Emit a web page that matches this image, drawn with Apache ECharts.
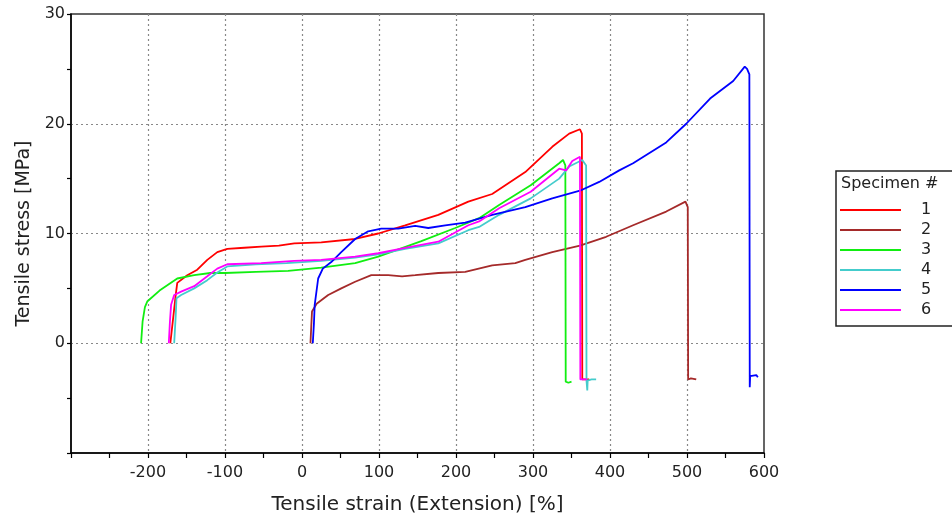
<!DOCTYPE html>
<html>
<head>
<meta charset="utf-8">
<script src="https://cdn.jsdelivr.net/npm/echarts@6/dist/echarts.min.js"></script>
<style>html,body{margin:0;padding:0;background:#fff}#c{width:952px;height:522px}</style>
</head>
<body>
<div id="c"></div>
<script>
// Specimen 1 (red)
const s1X = [-171, -167, -164, -162, -149, -136, -123, -110, -97, -75, -53, -30, -10, 25, 69, 99, 134, 177, 216, 247, 290, 325, 347, 361, 363.5, 364, 366, 373];
const s1Y = [0, 2.5, 4.4, 5.5, 6.2, 6.7, 7.6, 8.3, 8.6, 8.7, 8.8, 8.9, 9.1, 9.2, 9.5, 10.0, 10.75, 11.7, 12.9, 13.6, 15.6, 17.9, 19.1, 19.5, 19.1, -3.3, -3.3, -3.3];
// Specimen 2 (brown)
const s2X = [11, 12, 13, 19, 34, 51, 69, 90, 112, 130, 147, 177, 212, 247, 277, 290, 325, 361, 395, 430, 473, 498, 501, 501.5, 505, 512];
const s2Y = [0, 1.5, 2.9, 3.6, 4.4, 5.0, 5.6, 6.2, 6.2, 6.1, 6.2, 6.4, 6.5, 7.1, 7.3, 7.6, 8.3, 8.9, 9.7, 10.75, 12.0, 12.9, 12.4, -3.3, -3.2, -3.3];
// Specimen 3 (green)
const s3X = [-209, -207, -204, -201, -185, -162, -140, -119, -100, -60, -18, 25, 69, 99, 155, 199, 230, 256, 297, 334, 339, 342, 342.5, 346, 350];
const s3Y = [0, 2.0, 3.3, 3.8, 4.8, 5.9, 6.2, 6.4, 6.4, 6.5, 6.6, 6.9, 7.3, 7.9, 9.3, 10.5, 11.4, 12.6, 14.4, 16.4, 16.7, 16.2, -3.5, -3.6, -3.5];
// Specimen 4 (cyan)
const s4X = [-166, -164, -163, -157, -140, -123, -110, -97, -60, -20, 25, 69, 99, 134, 177, 216, 230, 256, 297, 334, 347, 364, 369, 369.5, 370.5, 371, 376, 382];
const s4Y = [0, 2.5, 4.1, 4.4, 5.0, 5.75, 6.45, 7.0, 7.2, 7.3, 7.5, 7.8, 8.1, 8.6, 9.1, 10.3, 10.6, 11.7, 13.2, 15.0, 16.1, 16.7, 16.2, -3.4, -4.3, -3.4, -3.3, -3.3];
// Specimen 5 (blue)
const s5X = [14, 15.5, 16.5, 21, 27, 38, 51, 69, 86, 103, 125, 147, 164, 186, 212, 247, 290, 325, 361, 386, 412, 430, 473, 499, 530, 560, 575, 578, 581, 581.5, 582, 583, 590, 592];
const s5Y = [0, 1.8, 3.5, 5.9, 6.8, 7.4, 8.3, 9.5, 10.2, 10.45, 10.45, 10.7, 10.5, 10.75, 11.0, 11.7, 12.4, 13.2, 13.9, 14.7, 15.75, 16.4, 18.3, 20.0, 22.3, 23.9, 25.2, 25.0, 24.5, -4.0, -3.0, -2.9, -2.9, -3.1];
// Specimen 6 (magenta)
const s6X = [-173, -171.5, -170, -166, -157, -140, -123, -110, -97, -53, -10, 25, 69, 99, 134, 177, 216, 230, 256, 297, 334, 343, 351, 361, 361.5, 365, 370];
const s6Y = [0, 2.0, 3.5, 4.4, 4.7, 5.2, 6.1, 6.8, 7.2, 7.3, 7.5, 7.6, 7.9, 8.2, 8.7, 9.25, 10.75, 11.1, 12.3, 13.8, 15.9, 15.75, 16.6, 17.0, -3.3, -3.3, -3.3];

const specimenNames = ['1', '2', '3', '4', '5', '6'];
const seriesX = [s1X, s2X, s3X, s4X, s5X, s6X];
const seriesY = [s1Y, s2Y, s3Y, s4Y, s5Y, s6Y];
const colors = ['#ff0000', '#a52a2a', '#11ee11', '#44cccc', '#0000ff', '#ff00ff'];

const xTitle = 'Tensile strain (Extension) [%]';
const yTitle = 'Tensile stress [MPa]';
const legendTitle = 'Specimen #';

const FONT = 'DejaVu Sans';
const TXT = '#222';

const chart = echarts.init(document.getElementById('c'));
const series = specimenNames.map((n, i) => ({
  name: n,
  type: 'line',
  symbol: 'none',
  showSymbol: false,
  data: seriesX[i].map((x, k) => [x, seriesY[i][k]]),
  lineStyle: { width: 1.8, color: colors[i] },
  itemStyle: { color: colors[i] },
  emphasis: { disabled: true },
  animation: false
}));

chart.setOption({
  animation: false,
  backgroundColor: '#fff',
  grid: { left: 71, right: 188, top: 14, bottom: 69, show: true, borderColor: '#333', borderWidth: 1.5, backgroundColor: 'transparent' },
  title: {
    text: legendTitle, left: 841, top: 176, padding: 0,
    textStyle: { fontFamily: FONT, fontSize: 16, fontWeight: 'normal', color: TXT }
  },
  legend: {
    data: specimenNames,
    orient: 'vertical',
    left: 836, top: 171,
    padding: [31, 60, 8, 3],
    borderColor: '#222', borderWidth: 1.5,
    itemWidth: 61, itemHeight: 14, itemGap: 4,
    itemStyle: { opacity: 0, borderWidth: 0 },
    lineStyle: { width: 2 },
    textStyle: { fontFamily: FONT, fontSize: 16, color: TXT, padding: [0, 0, 0, 15], lineHeight: 14 },
    selectedMode: false
  },
  xAxis: {
    type: 'value', min: -300, max: 600, interval: 100,
    name: xTitle, nameLocation: 'middle', nameGap: 42,
    nameTextStyle: { fontFamily: FONT, fontSize: 20, color: TXT },
    axisLine: { show: true, onZero: false, lineStyle: { color: '#000', width: 1.5 } },
    axisTick: { show: true, length: 5, lineStyle: { color: '#000', width: 1.2 } },
    minorTick: { show: true, splitNumber: 2, length: 5, lineStyle: { color: '#000', width: 1.2 } },
    axisLabel: { showMinLabel: false, fontFamily: FONT, fontSize: 16, color: TXT, margin: 12 },
    splitLine: { show: true, showMinLine: false, showMaxLine: false, lineStyle: { color: '#888', width: 1.2, type: [2, 3] } }
  },
  yAxis: {
    type: 'value', min: -10, max: 30, interval: 10,
    name: yTitle, nameLocation: 'middle', nameGap: 37,
    nameTextStyle: { fontFamily: FONT, fontSize: 19, color: TXT },
    axisLine: { show: true, onZero: false, lineStyle: { color: '#000', width: 1.5 } },
    axisTick: { show: true, length: 4, lineStyle: { color: '#000', width: 1.2 } },
    minorTick: { show: true, splitNumber: 2, length: 4, lineStyle: { color: '#000', width: 1.2 } },
    axisLabel: { showMinLabel: false, fontFamily: FONT, fontSize: 16, color: TXT, margin: 6 },
    splitLine: { show: true, showMinLine: false, showMaxLine: false, lineStyle: { color: '#888', width: 1.2, type: [2, 3] } }
  },
  series: series
});
</script>
</body>
</html>
